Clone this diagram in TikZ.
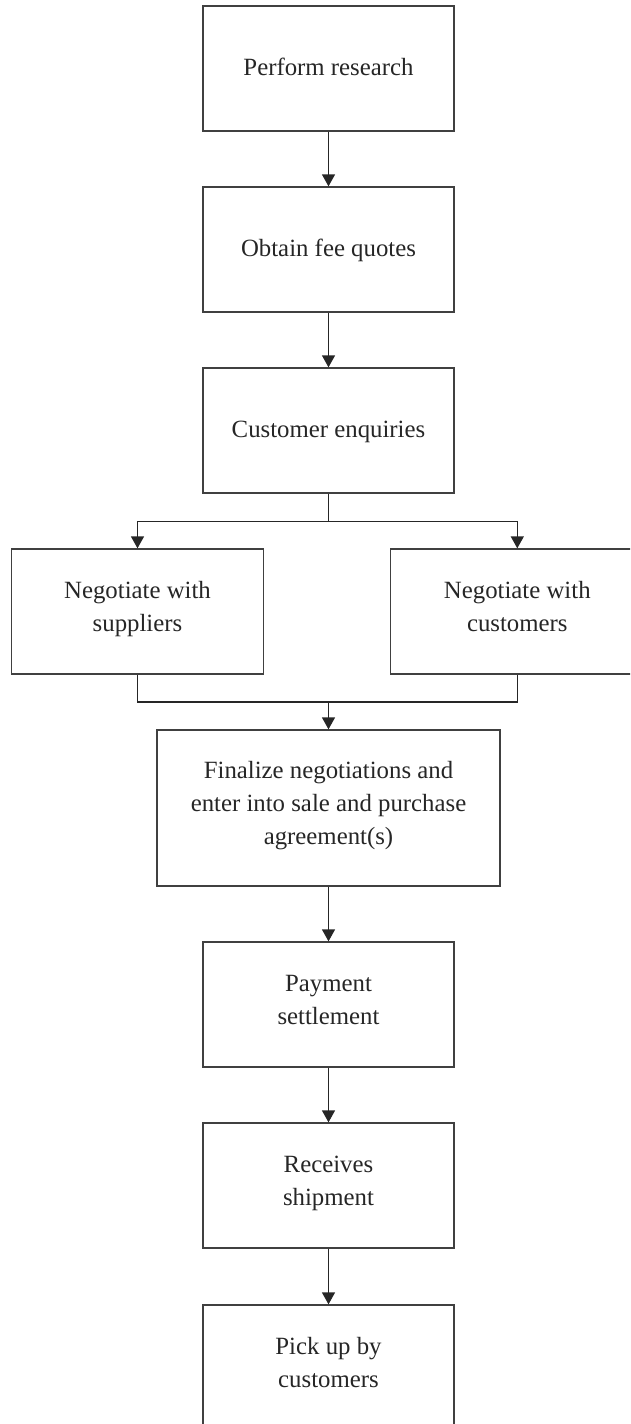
\documentclass[tikz,border=0pt]{standalone}
\usepackage{fontspec}
\setmainfont{Liberation Serif}
\usetikzlibrary{arrows.meta}
\begin{document}
\begin{tikzpicture}[x=1pt,y=-1pt,
  box/.style={draw=black!75, line width=1.3pt, rectangle, inner sep=0pt,
    minimum width=251pt, minimum height=125pt, align=center,
    font=\fontsize{24.8}{33}\selectfont, text=black!85,
    execute at begin node=\strut, execute at end node=\strut},
  conn/.style={draw=black!85, line width=1.3pt},
  arr/.style={conn, -{Triangle[length=12pt,width=13pt]}}]
\clip (0,0) rectangle (630,1424);
\node[box] (b1) at (328.5,68.5) {Perform research};
\node[box] (b2) at (328.5,249.5) {Obtain fee quotes};
\node[box] (b3) at (328.5,430.5) {Customer enquiries};
\node[box, minimum width=251.6pt] (ns) at (137.5,611.5) {Negotiate with\\suppliers};
\node[box, minimum width=253pt] (nc) at (517.3,611.5) {Negotiate with\\customers};
\node[box, minimum width=343pt, minimum height=156pt] (b5) at (328.5,808) {Finalize negotiations and\\enter into sale and purchase\\agreement(s)};
\node[box] (b6) at (328.5,1004.5) {Payment\\settlement};
\node[box] (b7) at (328.5,1185.5) {Receives\\shipment};
\node[box] (b8) at (328.5,1367.5) {Pick up by\\customers};
\coordinate (split) at (328.5,521.7);
\coordinate (join) at (328.5,702);
\draw[arr] (b1) -- (b2);
\draw[arr] (b2) -- (b3);
\draw[conn] (b3) -- (split);
\draw[arr] (split) -| (ns.north);
\draw[arr] (split) -| (nc.north);
\draw[conn] (ns.south) |- (join);
\draw[conn] (nc.south) |- (join);
\draw[arr] (join) -- (b5.north);
\draw[arr] (b5) -- (b6);
\draw[arr] (b6) -- (b7);
\draw[arr] (b7) -- (b8);
\end{tikzpicture}
\end{document}
